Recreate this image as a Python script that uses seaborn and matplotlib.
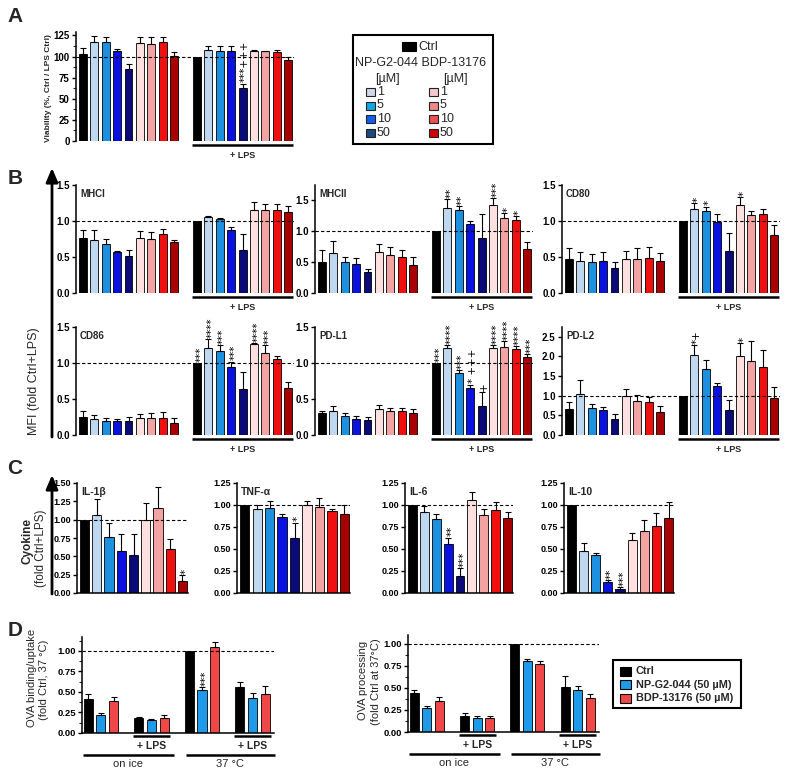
import numpy as np
import pandas as pd
import matplotlib
matplotlib.use("Agg")
import matplotlib.pyplot as plt
import matplotlib.transforms as mtrans
from matplotlib.patches import Rectangle
import seaborn as sns

# ---------------- data ----------------
conds = ["Ctrl", "NP 1", "NP 5", "NP 10", "NP 50", "BDP 1", "BDP 5", "BDP 10", "BDP 50"]
cond_colors = ["#000000", "#bfd7ef", "#1e90e0", "#0a12e0", "#0a0a78",
               "#fde0df", "#f3a3a2", "#f01010", "#a80000"]

# Panel A: viability (first 9 = no LPS, last 9 = +LPS)
viab_mean = [103, 117, 117, 107, 85, 116, 115, 117, 101,
             100, 108, 107, 107, 63, 107, 106, 105, 96]
viab_err = [7, 7, 6, 2, 6, 7, 8, 6, 4,
            0, 5, 6, 5, 5, 1, 0.5, 3, 3]
viab_sig = {13: "***+++"}
viab_ticks = [0, 25, 50, 75, 100, 125]
viab_ticklabels = ["0", "25", "50", "75", "100", "125"]

# Panel B: MFI (fold Ctrl+LPS)
mhc1_mean = [0.77, 0.74, 0.68, 0.57, 0.51, 0.76, 0.75, 0.82, 0.71,
             1.00, 1.05, 1.03, 0.87, 0.60, 1.15, 1.15, 1.15, 1.13]
mhc1_err = [0.10, 0.13, 0.07, 0.02, 0.09, 0.10, 0.10, 0.07, 0.02,
            0, 0.02, 0.01, 0.04, 0.22, 0.12, 0.09, 0.08, 0.08]
mhc1_sig = {}

mhc2_mean = [0.51, 0.65, 0.50, 0.47, 0.34, 0.66, 0.61, 0.59, 0.45,
             1.00, 1.38, 1.34, 1.12, 0.89, 1.42, 1.22, 1.18, 0.72]
mhc2_err = [0.18, 0.20, 0.08, 0.09, 0.05, 0.13, 0.13, 0.11, 0.13,
            0, 0.14, 0.07, 0.05, 0.39, 0.12, 0.08, 0.07, 0.10]
mhc2_sig = {10: "**", 11: "**", 14: "***", 15: "*", 16: "*"}

cd80_mean = [0.47, 0.45, 0.43, 0.45, 0.35, 0.47, 0.47, 0.48, 0.44,
             1.00, 1.16, 1.14, 0.98, 0.59, 1.22, 1.08, 1.10, 0.81]
cd80_err = [0.15, 0.12, 0.11, 0.12, 0.08, 0.12, 0.15, 0.16, 0.11,
            0, 0.09, 0.06, 0.12, 0.25, 0.11, 0.06, 0.06, 0.14]
cd80_sig = {10: "*", 11: "*", 14: "*"}

cd86_mean = [0.25, 0.22, 0.19, 0.20, 0.20, 0.24, 0.23, 0.23, 0.17,
             1.00, 1.21, 1.16, 0.95, 0.64, 1.26, 1.14, 1.06, 0.65]
cd86_err = [0.09, 0.06, 0.04, 0.02, 0.05, 0.05, 0.07, 0.09, 0.06,
            0, 0.12, 0.09, 0.07, 0.24, 0.02, 0.11, 0.04, 0.09]
cd86_sig = {9: "***", 10: "****", 11: "***", 12: "***", 14: "****", 15: "***"}

pdl1_mean = [0.30, 0.33, 0.26, 0.22, 0.21, 0.36, 0.33, 0.34, 0.31,
             1.00, 1.21, 0.86, 0.65, 0.40, 1.21, 1.22, 1.19, 1.09]
pdl1_err = [0.04, 0.07, 0.04, 0.04, 0.04, 0.06, 0.05, 0.04, 0.05,
            0, 0.04, 0.04, 0.05, 0.20, 0.04, 0.08, 0.05, 0.03]
pdl1_sig = {9: "***", 10: "****", 11: "***", 12: "* +++", 13: "+",
            14: "****", 15: "****", 16: "****", 17: "***"}

pdl2_mean = [0.67, 1.05, 0.70, 0.63, 0.42, 1.00, 0.87, 0.83, 0.58,
             1.00, 2.03, 1.68, 1.24, 0.64, 2.00, 1.89, 1.74, 0.94]
pdl2_err = [0.16, 0.36, 0.09, 0.08, 0.11, 0.17, 0.15, 0.15, 0.15,
            0, 0.25, 0.24, 0.09, 0.25, 0.35, 0.50, 0.42, 0.28]
pdl2_sig = {10: "*+", 14: "*"}

# Panel C: cytokines (fold Ctrl+LPS), 9 conditions
il1b_mean = [1.00, 1.07, 0.77, 0.57, 0.52, 1.00, 1.16, 0.60, 0.17]
il1b_err = [0, 0.21, 0.19, 0.24, 0.28, 0.23, 0.29, 0.13, 0.07]
il1b_sig = {8: "*"}
tnf_mean = [1.00, 0.96, 0.97, 0.86, 0.63, 1.00, 0.98, 0.93, 0.90]
tnf_err = [0, 0.04, 0.07, 0.04, 0.17, 0.05, 0.10, 0.02, 0.10]
tnf_sig = {4: "*"}
il6_mean = [1.00, 0.92, 0.84, 0.56, 0.19, 1.06, 0.89, 0.94, 0.85]
il6_err = [0, 0.07, 0.06, 0.07, 0.09, 0.09, 0.07, 0.09, 0.07]
il6_sig = {3: "**", 4: "***"}
il10_mean = [1.00, 0.48, 0.43, 0.12, 0.04, 0.60, 0.70, 0.76, 0.85]
il10_err = [0, 0.09, 0.03, 0.03, 0.03, 0.08, 0.13, 0.15, 0.18]
il10_sig = {3: "**", 4: "***"}

# Panel D: OVA (groups: on ice, on ice+LPS, 37 °C, 37 °C+LPS; treatments Ctrl/NP/BDP)
d_treat = ["Ctrl", "NP-G2-044 (50 µM)", "BDP-13176 (50 µM)"]
d_colors = ["#000000", "#1e9ae8", "#f04848"]
d_groups = ["ice", "ice_lps", "37", "37_lps"]
uptake_mean = [0.41, 0.22, 0.39, 0.18, 0.16, 0.18, 1.00, 0.53, 1.05, 0.56, 0.43, 0.48]
uptake_err = [0.06, 0.02, 0.05, 0.01, 0.005, 0.04, 0, 0.03, 0.06, 0.06, 0.06, 0.09]
uptake_sig = {7: "***"}
process_mean = [0.44, 0.27, 0.35, 0.18, 0.16, 0.16, 1.00, 0.80, 0.77, 0.51, 0.48, 0.38]
process_err = [0.04, 0.03, 0.05, 0.03, 0.02, 0.02, 0, 0.03, 0.04, 0.12, 0.04, 0.05]
process_sig = {}

# legend A colours
legA_np = ["#d0d8e8", "#10a8e8", "#1060f0", "#1a4a80"]
legA_bdp = ["#f9c8cc", "#f08888", "#f05050", "#d00000"]
legA_doses = ["1", "5", "10", "50"]

# ---------------- style ----------------
sns.set_theme(style="ticks")
plt.rcParams["font.family"] = ["Liberation Sans", "DejaVu Sans"]
plt.rcParams["axes.linewidth"] = 1.1

W, H, DPI = 786, 775, 100
fig = plt.figure(figsize=(W / DPI, H / DPI), dpi=DPI)


def rect(l, t, r, b):
    return [l / W, 1 - b / H, (r - l) / W, (b - t) / H]


def offs(ax, dy_px):
    return ax.get_xaxis_transform() + mtrans.ScaledTranslation(0, -dy_px / DPI, fig.dpi_scale_trans)


def style_axis(ax, ylim, ticks, labels, fs=7, bottom=False):
    ax.set_ylim(*ylim)
    ax.set_yticks(ticks)
    ax.set_yticklabels(labels, fontweight="bold", fontsize=fs)
    ax.set_xticks([])
    ax.set_xlabel("")
    ax.set_ylabel("")
    sns.despine(ax=ax, bottom=not bottom)
    ax.tick_params(axis="y", length=3, width=1, pad=1.5, colors="black")
    ax.spines["left"].set_color("black")
    ax.spines["bottom"].set_color("black")
    ax.set_facecolor("none")


def sig_text(ax, x, ytop, s, fs=7.5):
    """vertical (rotated) significance marks above an error bar"""
    dx = 2.4 if "+" not in s else 1.8
    ax.annotate(s, xy=(x, ytop), xytext=(dx, 0.8), textcoords="offset points",
                rotation=90, ha="center", va="bottom", fontsize=fs, family="DejaVu Sans",
                color="black", annotation_clip=False)


def draw_bars(ax, slots, order, hues, hue_order, palette, means, errs, sig, width):
    df = pd.DataFrame({"slot": slots, "grp": hues, "val": means})
    sns.barplot(data=df, x="slot", y="val", hue="grp", order=order, hue_order=hue_order,
                palette=palette, saturation=1, dodge=False, width=width, errorbar=None,
                edgecolor="black", linewidth=0.6, legend=False, ax=ax, zorder=2)
    xs = np.array([order.index(s) for s in slots], dtype=float)
    m = np.array(means, dtype=float)
    e = np.array(errs, dtype=float)
    k = e > 0
    ax.errorbar(xs[k], m[k], yerr=[np.zeros(k.sum()), e[k]], fmt="none", ecolor="black",
                elinewidth=0.8, capsize=2.2, capthick=0.8, zorder=3)
    for i, s in sig.items():
        sig_text(ax, xs[i], m[i] + e[i], s)
    return xs


# 18-slot layout (no LPS, gap, +LPS)
slots18 = [c + " -" for c in conds] + [c + " +" for c in conds]
order18 = slots18[:9] + ["gap"] + slots18[9:]
hues18 = conds + conds


def panel18(rc, means, errs, sig, ylim, ticks, labels, title, dashed=1.0, tfs=7):
    ax = fig.add_axes(rect(*rc))
    draw_bars(ax, slots18, order18, hues18, conds, cond_colors, means, errs, sig, 0.7)
    ax.axhline(dashed, color="black", ls=(0, (3, 2)), lw=0.8, zorder=4)
    style_axis(ax, ylim, ticks, labels)
    ax.set_xlim(-0.6, 18.5)
    ax.plot([9.55, 18.45], [0, 0], transform=offs(ax, 4), color="black", lw=1.8,
            clip_on=False, solid_capstyle="butt")
    ax.text(14, 0, "+ LPS", transform=offs(ax, 14), ha="center", va="center",
            fontsize=6.5, fontweight="bold", clip_on=False)
    if title:
        ax.text(4 / (rc[2] - rc[0]), 1 - 9 / (rc[3] - rc[1]), title, transform=ax.transAxes,
                ha="left", va="center", fontsize=tfs, fontweight="bold")
    return ax


# ---- Panel A
axA = panel18((76, 32, 294, 141), viab_mean, viab_err, viab_sig, (0, 129),
              viab_ticks, viab_ticklabels, None, dashed=100)
axA.set_yticks(np.arange(12.5, 129, 25), minor=True)
axA.tick_params(axis="y", which="minor", length=2, width=0.8)

# ---- Panel B
b_ticks = [0, 0.5, 1.0, 1.5]
b_labels = ["0.0", "0.5", "1.0", "1.5"]
panel18((76, 185, 294, 293), mhc1_mean, mhc1_err, mhc1_sig, (0, 1.5), b_ticks, b_labels, "MHCI")
panel18((315, 185, 533, 293), mhc2_mean, mhc2_err, mhc2_sig, (0, 1.75), b_ticks, b_labels, "MHCII")
panel18((562, 185, 780, 293), cd80_mean, cd80_err, cd80_sig, (0, 1.5), b_ticks, b_labels, "CD80")
panel18((76, 327, 294, 435), cd86_mean, cd86_err, cd86_sig, (0, 1.5), b_ticks, b_labels, "CD86")
panel18((315, 327, 533, 435), pdl1_mean, pdl1_err, pdl1_sig, (0, 1.5), b_ticks, b_labels, "PD-L1")
panel18((562, 327, 780, 435), pdl2_mean, pdl2_err, pdl2_sig, (0, 2.75),
        [0, 0.5, 1.0, 1.5, 2.0, 2.5], ["0.0", "0.5", "1.0", "1.5", "2.0", "2.5"], "PD-L2")

# ---- Panel C
slots9 = list(conds)


def panel9(rc, means, errs, sig, ylim, ticks, labels, title):
    ax = fig.add_axes(rect(*rc))
    draw_bars(ax, slots9, slots9, conds, conds, cond_colors, means, errs, sig, 0.75)
    ax.axhline(1.0, color="black", ls=(0, (3, 2)), lw=0.8, zorder=4)
    style_axis(ax, ylim, ticks, labels, fs=6.5, bottom=True)
    ax.set_xlim(-0.62, 8.45)
    ax.text(4 / (rc[2] - rc[0]), 1 - 9 / (rc[3] - rc[1]), title, transform=ax.transAxes,
            ha="left", va="center", fontsize=7.5, fontweight="bold")
    return ax


c_ticks = [0, 0.25, 0.5, 0.75, 1.0, 1.25]
c_labels = ["0.00", "0.25", "0.50", "0.75", "1.00", "1.25"]
panel9((77, 483, 188, 593), il1b_mean, il1b_err, il1b_sig, (0, 1.5),
       c_ticks + [1.5], c_labels + ["1.50"], "IL-1β")
panel9((237, 483, 350, 593), tnf_mean, tnf_err, tnf_sig, (0, 1.25), c_ticks, c_labels, "TNF-α")
panel9((405, 483, 513, 593), il6_mean, il6_err, il6_sig, (0, 1.25), c_ticks, c_labels, "IL-6")
panel9((564, 483, 674, 593), il10_mean, il10_err, il10_sig, (0, 1.25), c_ticks, c_labels, "IL-10")

# ---- Panel D
d_slots = [g + "|" + t for g in d_groups for t in d_treat]
d_order = d_slots[0:3] + ["g1"] + d_slots[3:6] + ["g2"] + d_slots[6:9] + ["g3"] + d_slots[9:12]
d_hues = [t for g in d_groups for t in d_treat]


def panelD(rc, means, errs, sig, ylim):
    ax = fig.add_axes(rect(*rc))
    draw_bars(ax, d_slots, d_order, d_hues, d_treat, d_colors, means, errs, sig, 0.72)
    ax.axhline(1.0, color="black", ls=(0, (3, 2)), lw=0.8, zorder=4)
    style_axis(ax, ylim, c_ticks[:5], c_labels[:5], fs=6.8, bottom=True)
    ax.set_yticks(np.arange(0.125, ylim[1], 0.25), minor=True)
    ax.tick_params(axis="y", which="minor", length=2, width=0.8)
    ax.set_xlim(-0.5, 14.7)
    for a, b in [(3.55, 6.5), (11.55, 14.5)]:
        ax.plot([a, b], [0, 0], transform=offs(ax, 3), color="black", lw=1.8,
                clip_on=False, solid_capstyle="butt")
        ax.text((a + b) / 2, 0, "+ LPS", transform=offs(ax, 13), ha="center", va="center",
                fontsize=7.5, fontweight="bold", clip_on=False)
    for a, b, s in [(-0.45, 6.8, "on ice"), (7.7, 14.75, "37 °C")]:
        ax.plot([a, b], [0, 0], transform=offs(ax, 22), color="black", lw=1.8,
                clip_on=False, solid_capstyle="butt")
        ax.text((a + b) / 2, 0, s, transform=offs(ax, 31), ha="center", va="center",
                fontsize=8, clip_on=False)
    return ax


panelD((82, 637, 274, 733), uptake_mean, uptake_err, uptake_sig, (0, 1.17))
panelD((408, 635, 599, 732), process_mean, process_err, process_sig, (0, 1.1))

# ---------------- overlay: letters, arrows, labels, legends ----------------
ov = fig.add_axes([0, 0, 1, 1])
ov.set_xlim(0, W)
ov.set_ylim(H, 0)
ov.axis("off")
ov.set_zorder(10)
ov.patch.set_alpha(0)

for s, x, y in [("A", 15, 17), ("B", 15, 178), ("C", 15, 468), ("D", 15, 630)]:
    ov.text(x, y, s, fontsize=15, fontweight="bold", ha="center", va="center")

ov.text(49, 88, "Viability (%, Ctrl / LPS Ctrl)", rotation=90, fontsize=6,
        fontweight="bold", ha="center", va="center")
ov.annotate("", xy=(52, 168), xytext=(52, 437),
            arrowprops=dict(arrowstyle="-|>,head_length=0.7,head_width=0.3", lw=2,
                            color="black", shrinkA=0, shrinkB=0))
ov.text(34, 381, "MFI (fold Ctrl+LPS)", rotation=90, fontsize=9, ha="center", va="center")
ov.annotate("", xy=(52, 475), xytext=(52, 594),
            arrowprops=dict(arrowstyle="-|>,head_length=0.7,head_width=0.3", lw=2,
                            color="black", shrinkA=0, shrinkB=0))
ov.text(27, 541, "Cyokine", rotation=90, fontsize=8.5, fontweight="bold", ha="center", va="center")
ov.text(41, 548, "(fold Ctrl+LPS)", rotation=90, fontsize=8.5, ha="center", va="center")
ov.text(32, 678, "OVA binding/uptake", rotation=90, fontsize=8, ha="center", va="center")
ov.text(44, 680, "(fold Ctrl, 37 °C)", rotation=90, fontsize=8, ha="center", va="center")
ov.text(363, 680, "OVA processing", rotation=90, fontsize=8, ha="center", va="center")
ov.text(376, 682, "(fold Ctrl at 37°C)", rotation=90, fontsize=8, ha="center", va="center")

# legend A
ov.add_patch(Rectangle((353, 35), 140, 109, fill=False, edgecolor="black", lw=1.5))
ov.add_patch(Rectangle((402, 42), 14, 9, facecolor="black", edgecolor="black", lw=0.8))
ov.text(418, 47, "Ctrl", fontsize=9, ha="left", va="center")
ov.text(421, 63, "NP-G2-044 BDP-13176", fontsize=9, ha="center", va="center")
ov.text(387, 79, "[µM]", fontsize=9, ha="center", va="center")
ov.text(455, 79, "[µM]", fontsize=9, ha="center", va="center")
for j, (dose, cn, cb) in enumerate(zip(legA_doses, legA_np, legA_bdp)):
    yy = 92 + j * 13.5
    ov.add_patch(Rectangle((366, yy - 4), 9, 8, facecolor=cn, edgecolor="#222222", lw=0.8))
    ov.text(377, yy, dose, fontsize=9, ha="left", va="center")
    ov.add_patch(Rectangle((429, yy - 4), 9, 8, facecolor=cb, edgecolor="#222222", lw=0.8))
    ov.text(440, yy, dose, fontsize=9, ha="left", va="center")

# legend D
ov.add_patch(Rectangle((613, 660), 128, 48, fill=False, edgecolor="black", lw=1.5))
for j, (t, c) in enumerate(zip(d_treat, d_colors)):
    yy = 671 + j * 13.5
    ov.add_patch(Rectangle((620, yy - 4.5), 11, 9, facecolor=c, edgecolor="black", lw=0.8))
    ov.text(636, yy, t, fontsize=7.8, fontweight="bold", ha="left", va="center")

fig.savefig("out.png", dpi=DPI)
